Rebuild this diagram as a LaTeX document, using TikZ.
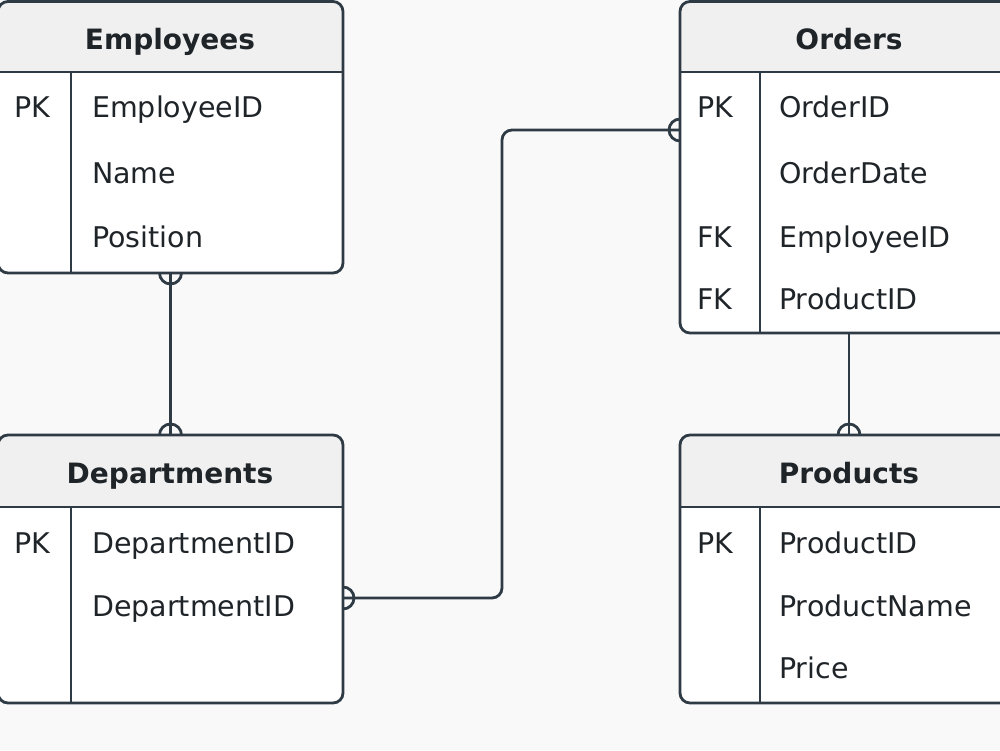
\documentclass[tikz,border=0pt]{standalone}
\usepackage{fontspec}
\setmainfont{DejaVu Sans}
\definecolor{ln}{HTML}{2E3A44}
\definecolor{hd}{HTML}{F0F0F0}
\definecolor{bg}{HTML}{F9F9F9}
\definecolor{tx}{HTML}{1F2429}
\newcommand\ertab[7]{%
  \begin{scope}
    \clip[rounded corners=10pt] (#2,-#3) rectangle (#4,-#5);
    \fill[white] (#2,-#3) rectangle (#4,-#5);
    \fill[hd] (#2,-#3) rectangle (#4,-#6);
  \end{scope}
  \draw[inner] (#2,-#6) -- (#4,-#6);
  \draw[inner] (#7,-#6) -- (#7,-#5);
  \node[tbl, minimum width={#4-(#2)}, minimum height={#5-(#3)}] (#1) at (#2,-#3) {};
}
\begin{document}
\begin{tikzpicture}[x=1pt,y=1pt,
  tbl/.style={draw=ln, line width=2.8pt, rounded corners=10pt, inner sep=0pt, outer sep=0pt, anchor=north west},
  inner/.style={draw=ln, line width=2.4pt},
  hdr/.style={text=tx, font=\fontsize{28}{32}\selectfont\bfseries, inner sep=0pt, anchor=base},
  fld/.style={text=tx, font=\fontsize{28.5}{32}\selectfont, inner sep=0pt, anchor=base west},
  conn/.style={draw=ln, line width=2.8pt}
]
\useasboundingbox (0,0) rectangle (1000,-750);
\fill[bg] (0,0) rectangle (1000,-750);

% connectors
\coordinate (depR) at (343,-598);
\coordinate (ordL) at (680,-130);

\ertab{emp}{-2}{1.5}{343}{273}{72}{71}
\ertab{ord}{680}{1.5}{1018}{333}{72}{760}
\ertab{dep}{-2}{435}{343}{703}{507}{71}
\ertab{prod}{680}{435}{1018}{703}{507}{760}

\draw[conn] (emp.south) -- (dep.north);
\draw[conn] (ord.south) -- (prod.north);
\draw[conn, rounded corners=10pt] (depR) -- (502,-598) -- (502,-130) -- (ordL);

\draw[conn] (emp.south) ++(-11,0) arc[start angle=180, end angle=360, radius=11];
\draw[conn] (dep.north) ++(11,0) arc[start angle=0, end angle=180, radius=11];
\draw[conn] (depR) ++(0,11) arc[start angle=90, end angle=-90, radius=11];
\draw[conn] (ordL) ++(0,11) arc[start angle=90, end angle=270, radius=11];
\draw[conn] (prod.north) ++(11,0) arc[start angle=0, end angle=180, radius=11];

% Employees
\node[hdr] (emp-h) at (170,-49) {Employees};
\node[fld] (emp-k1) at (14,-117) {PK};
\node[fld] (emp-1) at (92,-117) {EmployeeID};
\node[fld] (emp-2) at (92,-183) {Name};
\node[fld] (emp-3) at (92,-247) {Position};

% Orders
\node[hdr] (ord-h) at (849,-49) {Orders};
\node[fld] (ord-k1) at (697,-117) {PK};
\node[fld] (ord-1) at (779,-117) {OrderID};
\node[fld] (ord-2) at (779,-183) {OrderDate};
\node[fld] (ord-k3) at (697,-247) {FK};
\node[fld] (ord-3) at (779,-247) {EmployeeID};
\node[fld] (ord-k4) at (697,-309) {FK};
\node[fld] (ord-4) at (779,-309) {ProductID};

% Departments
\node[hdr] (dep-h) at (170,-483) {Departments};
\node[fld] (dep-k1) at (14,-553) {PK};
\node[fld] (dep-1) at (92,-553) {DepartmentID};
\node[fld] (dep-2) at (92,-616) {DepartmentID};

% Products
\node[hdr] (prod-h) at (849,-483) {Products};
\node[fld] (prod-k1) at (697,-553) {PK};
\node[fld] (prod-1) at (779,-553) {ProductID};
\node[fld] (prod-2) at (779,-616) {ProductName};
\node[fld] (prod-3) at (779,-678) {Price};
\end{tikzpicture}
\end{document}
